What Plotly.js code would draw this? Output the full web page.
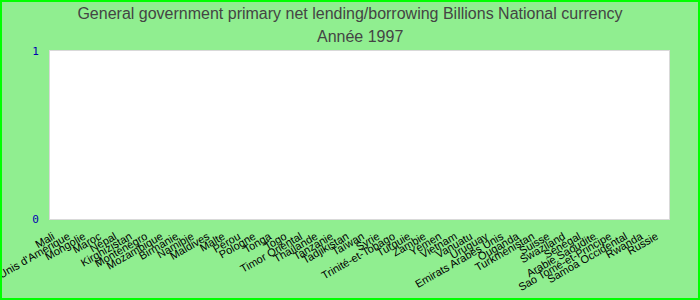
<!DOCTYPE html>
<html>
<head>
<meta charset="utf-8">
<script src="https://cdn.plot.ly/plotly-3.0.1.min.js"></script>
<style>
  html, body { margin: 0; padding: 0; }
  #wrap { position: relative; width: 700px; height: 300px; }
  #chart { width: 700px; height: 300px; }
  #frame { position: absolute; left: 0; top: 0; width: 700px; height: 300px; box-sizing: border-box; border: 2px solid #00FF00; pointer-events: none; }
</style>
</head>
<body>
<div id="wrap"><div id="chart"></div><div id="frame"></div></div>
<script>
const countries = ["Mali", "Etats-Unis d'Amérique", "Mongolie", "Maroc", "Népal", "Kirghizistan", "Monténégro", "Mozambique", "Birmanie", "Namibie", "Maldives", "Malte", "Pérou", "Pologne", "Tonga", "Togo", "Timor Oriental", "Thaïlande", "Tanzanie", "Tadjikistan", "Taïwan", "Syrie", "Trinité-et-Tobago", "Turquie", "Zambie", "Yémen", "Vietnam", "Vanuatu", "Uruguay", "Emirats Arabes Unis", "Ouganda", "Turkménistan", "Suisse", "Swaziland", "Sénégal", "Arabie Saoudite", "Sao Tomé-et-Principe", "Samoa Occidental", "Rwanda", "Russie"];
// No values are shown for 1997 in the reference: every country is empty.
const values1997 = countries.map(() => null);
const yTicks = [0, 1];
const titleMain = "General government primary net lending/borrowing Billions National currency";
const titleYear = "Année 1997";

const titleFont = { family: 'Liberation Sans, Arial, sans-serif', size: 16, color: '#444444' };

const trace = {
  type: 'bar',
  x: countries,
  y: values1997,
  marker: { color: '#4472C4' },
  hoverinfo: 'x+y'
};

const layout = {
  width: 700,
  height: 300,
  paper_bgcolor: '#90EE90',
  plot_bgcolor: '#FFFFFF',
  margin: { l: 50, r: 31, t: 51, b: 81, pad: 0 },
  showlegend: false,
  title: {
    text: titleMain,
    font: titleFont,
    x: 0.5, xanchor: 'center',
    y: 1 - 13 / 300, yref: 'container', yanchor: 'middle'
  },
  annotations: [{
    text: titleYear,
    font: titleFont,
    xref: 'paper', x: 0.5, xanchor: 'center',
    yref: 'paper', y: 1 + 15 / 168, yanchor: 'middle',
    showarrow: false
  }],
  xaxis: {
    type: 'category',
    categoryorder: 'array',
    categoryarray: countries,
    tickangle: -30,
    tickfont: { family: 'Liberation Sans, Arial, sans-serif', size: 11, color: '#000000' },
    showgrid: false,
    zeroline: false,
    showline: true,
    linecolor: '#D9D9D9',
    mirror: true,
    ticks: '',
    ticklabelstandoff: 6,
    ticklabelshift: -5
  },
  yaxis: {
    range: [0, 1],
    tickvals: yTicks,
    ticktext: yTicks.map(String),
    tickfont: { family: 'DejaVu Sans Mono, monospace', size: 11, color: '#0000B0' },
    showgrid: false,
    zeroline: false,
    showline: true,
    linecolor: '#D9D9D9',
    mirror: true,
    ticks: '',
    ticklabelstandoff: 8
  }
};

Plotly.newPlot('chart', [trace], layout, { displayModeBar: false, staticPlot: true });
</script>
</body>
</html>
